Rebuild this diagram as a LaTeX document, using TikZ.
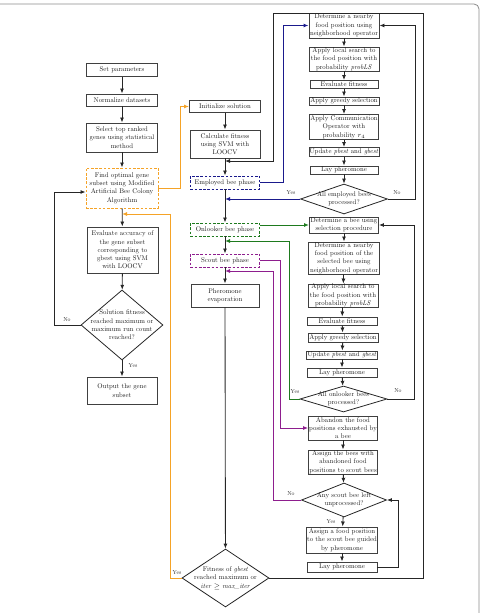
\documentclass[tikz,border=0pt]{standalone}
\usetikzlibrary{arrows.meta,shapes.geometric,calc}
\DeclareFontFamily{TU}{lmrten}{}
\DeclareFontShape{TU}{lmrten}{m}{n}{<-> "[lmroman10-regular]:+tlig;"}{}
\DeclareFontShape{TU}{lmrten}{m}{it}{<-> "[lmroman10-italic]:+tlig;"}{}
\newcommand{\fs}{\fontfamily{lmrten}\fontsize{6.8pt}{8.3pt}\selectfont}
\newcommand{\fl}{\fontfamily{lmrten}\fontsize{5.8pt}{6.5pt}\selectfont}
\definecolor{oc}{HTML}{F5A327}
\definecolor{nc}{HTML}{1A1A8C}
\definecolor{gc}{HTML}{1E7A1E}
\definecolor{pc}{HTML}{8E1E8E}
\begin{document}
\begin{tikzpicture}[x=1pt,y=-1pt,
 box/.style={draw=black!75,line width=0.95pt,align=center,font=\fs,inner xsep=0.5pt,inner ysep=0pt,text=black!90},
 dbox/.style={box,dash pattern=on 2.6pt off 1.6pt},
 dia/.style={draw=black!85,line width=0.8pt,diamond,inner sep=0pt,aspect=1},
 txt/.style={align=center,font=\fs,text=black!90,inner sep=0pt},
 lab/.style={font=\fl,text=black!85,inner sep=0.5pt},
 tip/.style={-{Latex[length=5pt,width=4pt]}},
 arr/.style={draw=black!85,line width=0.85pt,tip},
 oarr/.style={draw=oc,line width=1pt,tip},
 narr/.style={draw=nc,line width=1pt,tip},
 garr/.style={draw=gc,line width=1pt,tip},
 parr/.style={draw=pc,line width=1pt,tip}]
\useasboundingbox (0,0) rectangle (481,613);
% page frame
\draw[black!45,line width=0.8pt,rounded corners=5pt] (0,4) -- (479,4) -- (479,613);

% ---------- left column ----------
\node[box,minimum width=71pt,minimum height=13pt] (setp) at (122,70) {Set parameters};
\node[box,minimum width=71pt,minimum height=12pt] (norm) at (122,100) {Normalize datasets};
\node[box,minimum width=71pt,minimum height=29pt] (sel) at (122,137.5) {Select top ranked\\genes using statistical\\method};
\node[dbox,draw=oc,minimum width=72pt,minimum height=40pt] (find) at (122,188) {Find optimal gene\\subset using Modified\\Artificial Bee Colony\\Algorithm};
\node[box,minimum width=71pt,minimum height=46pt] (eval) at (122.5,250) {Evaluate accuracy of\\the gene subset\\corresponding to\\gbest using SVM\\with LOOCV};
\node[dia,minimum width=82pt,minimum height=70pt] (dsol) at (122,325) {};
\node[txt] (dsolt) at (dsol) {Solution fitness\\reached maximum or\\maximum run count\\reached?};
\node[box,minimum width=70pt,minimum height=27pt] (out) at (122,390.5) {Output the gene\\subset};

% ---------- middle column ----------
\node[box,minimum width=71pt,minimum height=12pt] (init) at (225,106.5) {Initialize solution};
\node[box,minimum width=70pt,minimum height=28pt] (calc) at (225,144) {Calculate fitness\\using SVM with\\LOOCV};
\node[dbox,draw=nc,minimum width=69pt,minimum height=13pt] (emp) at (225,182.5) {Employed bee phase};
\node[dbox,draw=gc,minimum width=69pt,minimum height=13pt] (onl) at (225,229.5) {Onlooker bee phase};
\node[dbox,draw=pc,minimum width=69pt,minimum height=13pt] (sco) at (225,260.5) {Scout bee phase};
\node[box,minimum width=68pt,minimum height=23pt] (evap) at (225,295.5) {Pheromone\\evaporation};
\node[dia,minimum width=87pt,minimum height=58pt] (dfin) at (225.5,578) {};
\node[txt] (dfint) at (dfin) {Fitness of \textit{gbest}\\reached maximum or\\\textit{iter} $\geq$ \textit{max\_iter}};

% ---------- right column: employed ----------
\node[box,minimum width=70pt,minimum height=25pt] (e1) at (344,25.5) {Determine a nearby\\food position using\\neighborhood operator};
\node[box,minimum width=70pt,minimum height=24pt] (e2) at (344,59) {Apply local search to\\the food position with\\probability \textit{probLS}};
\node[box,minimum width=68pt,minimum height=8pt] (e3) at (344,84.5) {Evaluate fitness};
\node[box,minimum width=70pt,minimum height=8pt] (e4) at (344,101) {Apply greedy selection};
\node[box,minimum width=69pt,minimum height=25pt] (e5) at (344,127) {Apply Communication\\Operator with\\probability $r_4$};
\node[box,minimum width=70pt,minimum height=9pt] (e6) at (344,152) {Update \textit{pbest} and \textit{gbest}};
\node[box,minimum width=68pt,minimum height=8pt] (e7) at (344,170) {Lay pheromone};
\node[dia,minimum width=87pt,minimum height=30pt] (de) at (344,199) {};
\node[txt] (det) at (de) {All employed bees\\processed?};

% ---------- right column: onlooker ----------
\node[box,minimum width=69pt,minimum height=16pt] (o1) at (344,225) {Determine a bee using\\selection procedure};
\node[box,minimum width=71pt,minimum height=32pt] (o2) at (344,258) {Determine a nearby\\food position of the\\selected bee using\\neighborhood operator};
\node[box,minimum width=70pt,minimum height=23pt] (o3) at (343,295.5) {Apply local search to\\the food position with\\probability \textit{probLS}};
\node[box,minimum width=70pt,minimum height=8pt] (o4) at (342,321) {Evaluate fitness};
\node[box,minimum width=70pt,minimum height=9pt] (o5) at (343,337.5) {Apply greedy selection};
\node[box,minimum width=71pt,minimum height=8pt] (o6) at (342,355) {Update \textit{pbest} and \textit{gbest}};
\node[box,minimum width=70pt,minimum height=9pt] (o7) at (342,372.5) {Lay pheromone};
\node[dia,minimum width=87pt,minimum height=26pt] (do) at (343.5,399) {};
\node[txt] (dot) at (do) {All onlooker bees\\processed?};

% ---------- right column: scout ----------
\node[box,minimum width=68pt,minimum height=24pt] (s1) at (343,428) {Abandon the food\\positions exhausted by\\a bee};
\node[box,minimum width=69pt,minimum height=24pt] (s2) at (343,462) {Assign the bees with\\abandoned food\\positions to scout bees};
\node[dia,minimum width=85pt,minimum height=34pt] (ds) at (344,500) {};
\node[txt] (dst) at (ds) {Any scout bee left\\unprocessed?};
\node[box,minimum width=70pt,minimum height=26pt] (s3) at (342,540) {Assign a food position\\to the scout bee guided\\by pheromone};
\node[box,minimum width=70pt,minimum height=10pt] (s4) at (342,567) {Lay pheromone};

% junction coordinates
\coordinate (j0) at (122,214);
\coordinate (j1) at (225,161);
\coordinate (j2) at (225,199);
\coordinate (j3) at (225,241);
\coordinate (j4) at (225,271);
\coordinate (lp) at (54,192);

% ---------- left connectors ----------
\draw[arr] (setp) -- (norm);
\draw[arr] (norm) -- (sel);
\draw[arr] (sel) -- (find);
\draw[arr] (find) -- (eval);
\draw[arr] (eval) -- (dsol);
\draw[arr] (dsol) -- (out);
\draw[arr] (dsol.west) -| (lp) -- (find.west |- lp);
\node[lab] (lno1) at (67,320) {No};
\node[lab] (lyes1) at (133,366) {Yes};

% orange
\draw[oarr] (find.east) -- ++(22,0) |- (init.west);
\draw[oarr] (dfin.west) -| (170,214) -- (j0);
\node[lab] (lyes5) at (177,573) {Yes};

% ---------- middle connectors ----------
\draw[arr] (init) -- (calc);
\draw[arr] (calc) -- (emp);
\draw[arr] (emp) -- (onl);
\draw[arr] (onl) -- (sco);
\draw[arr] (sco) -- (evap);
\draw[arr] (evap) -- (dfin);
\draw[arr] (dfin.east) -- (423,578) -- (423,13) -- (273,13) -- (273,161) -- (j1);

% employed group
\draw[narr] (emp.east) -| ([xshift=-25pt]e1.west) -- (e1.west);
\draw[arr] (e1) -- (e2);
\draw[arr] (e2) -- (e3);
\draw[arr] (e3) -- (e4);
\draw[arr] (e4) -- (e5);
\draw[arr] (e5) -- (e6);
\draw[arr] (e6) -- (e7);
\draw[arr] (e7) -- (de);
\draw[arr] (de.east) -- ++(28,0) |- (e1.east);
\draw[narr] (de.west) -- (j2);
\node[lab] (lyes2) at (291,193) {Yes};
\node[lab] (lno2) at (397,193) {No};

% onlooker group
\draw[garr] (onl.east |- o1.west) -- (o1.west);
\draw[arr] (o1) -- (o2);
\draw[arr] (o2) -- (o3);
\draw[arr] (o3) -- (o4);
\draw[arr] (o4) -- (o5);
\draw[arr] (o5) -- (o6);
\draw[arr] (o6) -- (o7);
\draw[arr] (o7) -- (do);
\draw[arr] (do.east) -- ++(27,0) |- (o1.east);
\draw[garr] (do.west) -| (289,241) -- (j3);
\node[lab] (lyes3) at (295,392) {Yes};
\node[lab] (lno3) at (398,391) {No};

% scout group
\draw[parr] (sco.east) -| ([xshift=-28pt]s1.west) -- (s1.west);
\draw[arr] (s1) -- (s2);
\draw[arr] (s2) -- (ds);
\draw[arr] (ds) -- (s3);
\draw[arr] (s3) -- (s4);
\draw[arr] (s4.east) -- ++(21,0) |- (ds.east);
\draw[parr] (ds.west) -| (273,271) -- (j4);
\node[lab] (lno4) at (291,494) {No};
\node[lab] (lyes4) at (331,522) {Yes};
\end{tikzpicture}
\end{document}
